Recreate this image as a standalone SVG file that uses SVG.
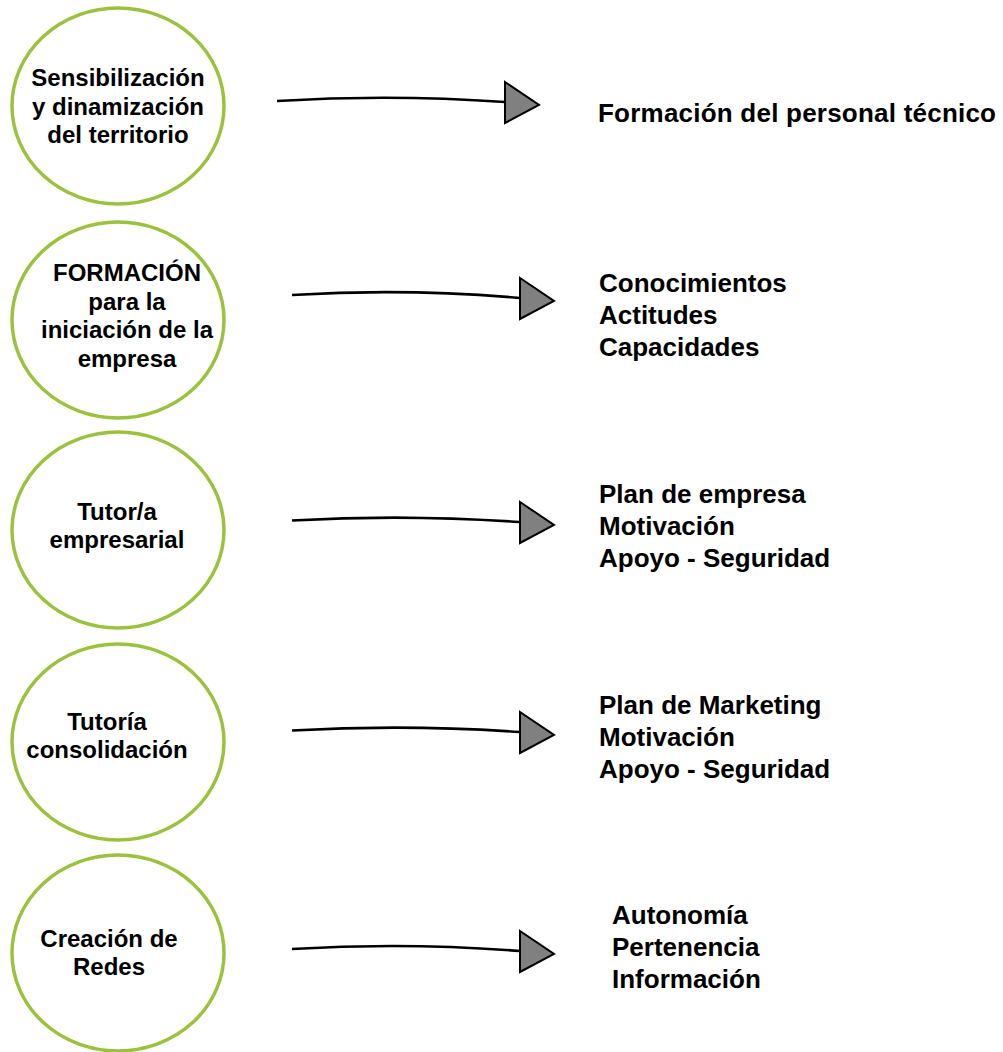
<svg xmlns="http://www.w3.org/2000/svg" xmlns:xlink="http://www.w3.org/1999/xlink" width="1003" height="1052" viewBox="0 0 1003 1052">
<style>
.node ellipse{fill:#fff;stroke:#9BC23C;stroke-width:3.5}
.ct{font-family:"Liberation Sans",Arial,sans-serif;font-weight:bold;font-size:24px;fill:#000;text-anchor:middle}
.rt{font-family:"Liberation Sans",Arial,sans-serif;font-weight:bold;font-size:26px;fill:#000}
.ln{fill:none;stroke:#000;stroke-width:2.6}
.hd{fill:#808080;stroke:#000;stroke-width:2;stroke-linejoin:miter}
</style>
<defs>
<polygon id="head" class="hd" points="0,-20 34,3 0,21"/>
</defs>
<rect width="1003" height="1052" fill="#fff"/>
<g id="node1" class="node">
<ellipse cx="118" cy="106" rx="106" ry="98"/>
<text class="ct" x="118" y="86">Sensibilización</text>
<text class="ct" x="118" y="115">y dinamización</text>
<text class="ct" x="118" y="143">del territorio</text>
</g>
<g id="node2" class="node">
<ellipse cx="118" cy="320" rx="106" ry="98"/>
<text class="ct" x="127" y="281">FORMACIÓN</text>
<text class="ct" x="127" y="310">para la</text>
<text class="ct" x="127" y="338">iniciación de la</text>
<text class="ct" x="127" y="367">empresa</text>
</g>
<g id="node3" class="node">
<ellipse cx="118" cy="530" rx="106" ry="98"/>
<text class="ct" x="117" y="520">Tutor/a</text>
<text class="ct" x="117" y="548">empresarial</text>
</g>
<g id="node4" class="node">
<ellipse cx="118" cy="742" rx="106" ry="98"/>
<text class="ct" x="107" y="730">Tutoría</text>
<text class="ct" x="107" y="758">consolidación</text>
</g>
<g id="node5" class="node">
<ellipse cx="118" cy="953" rx="106" ry="98"/>
<text class="ct" x="109" y="947">Creación de</text>
<text class="ct" x="109" y="975">Redes</text>
</g>
<g id="label1">
<text class="rt" x="598" y="122" textLength="398" lengthAdjust="spacing">Formación del personal técnico</text>
</g>
<g id="label2">
<text class="rt" x="599" y="292">Conocimientos</text>
<text class="rt" x="599" y="324">Actitudes</text>
<text class="rt" x="599" y="356">Capacidades</text>
</g>
<g id="label3">
<text class="rt" x="599" y="503">Plan de empresa</text>
<text class="rt" x="599" y="535">Motivación</text>
<text class="rt" x="599" y="567">Apoyo - Seguridad</text>
</g>
<g id="label4">
<text class="rt" x="599" y="714">Plan de Marketing</text>
<text class="rt" x="599" y="746">Motivación</text>
<text class="rt" x="599" y="778">Apoyo - Seguridad</text>
</g>
<g id="label5">
<text class="rt" x="612" y="924">Autonomía</text>
<text class="rt" x="612" y="956">Pertenencia</text>
<text class="rt" x="612" y="988">Información</text>
</g>
<g id="connectors">
<path class="ln" d="M277,101 Q391,94 505,102"/>
<use xlink:href="#head" x="505" y="102"/>
<path class="ln" d="M292,295 Q406,288 520,298"/>
<use xlink:href="#head" x="520" y="298"/>
<path class="ln" d="M292,520.5 Q406,514 520,522"/>
<use xlink:href="#head" x="520" y="522"/>
<path class="ln" d="M292,730.5 Q406,724 520,732"/>
<use xlink:href="#head" x="520" y="732"/>
<path class="ln" d="M292,949 Q406,942 520,951"/>
<use xlink:href="#head" x="520" y="951"/>
</g>
</svg>
